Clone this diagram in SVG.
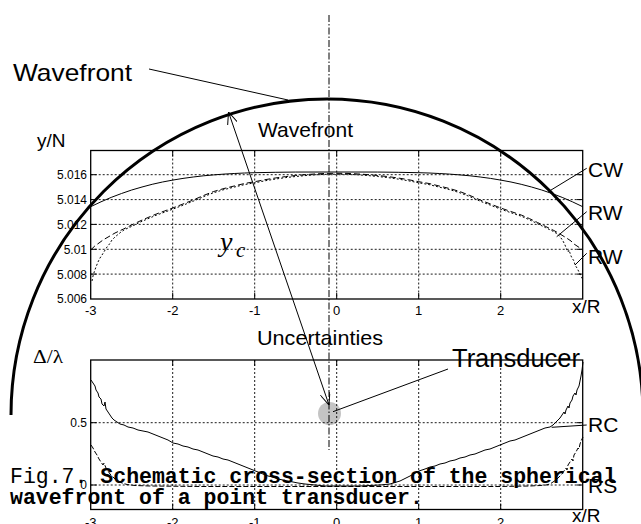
<svg xmlns="http://www.w3.org/2000/svg" width="641" height="524" viewBox="0 0 641 524">
<defs>
<style>
.frame{fill:none;stroke:#000;stroke-width:1.3}
.grid{fill:none;stroke:#000;stroke-width:0.9;stroke-dasharray:2 2}
.tick{fill:none;stroke:#000;stroke-width:1}
.curve{fill:none;stroke:#000;stroke-width:1;stroke-linejoin:round}
.lead{fill:none;stroke:#000;stroke-width:1}
.tl{font-family:"Liberation Sans",Arial,sans-serif;font-size:12px;fill:#000}
.tx{font-family:"Liberation Sans",Arial,sans-serif;font-size:13px;fill:#000;text-anchor:middle}
.lab{font-family:"Liberation Sans",Arial,sans-serif;fill:#000}
.cap{font-family:"Liberation Mono","Courier New",monospace;font-size:21.5px;fill:#000}
</style>
<marker id="v" viewBox="0 0 12 10" refX="12" refY="5" markerWidth="12" markerHeight="10" markerUnits="userSpaceOnUse" orient="auto-start-reverse">
<path d="M0,0 L12,5 L0,10" fill="none" stroke="#000" stroke-width="1"/>
</marker>
</defs>
<rect width="641" height="524" fill="#fff"/>

<g id="transducer">
<circle cx="329.5" cy="413.5" r="11.5" fill="#c4c4c4"/>
</g>

<g id="plot-wavefront">
<g class="grid">
<path d="M172.7,150.5V299M254.7,150.5V299M336.7,150.5V299M418.7,150.5V299M500.7,150.5V299"/>
<path d="M90.7,174.7H582.7M90.7,199.6H582.7M90.7,224.4H582.7M90.7,249.3H582.7M90.7,274.1H582.7"/>
</g>
<g class="tick">
<path d="M172.7,299v-6M254.7,299v-6M336.7,299v-6M418.7,299v-6M500.7,299v-6M172.7,150.5v6M254.7,150.5v6M336.7,150.5v6M418.7,150.5v6M500.7,150.5v6"/>
<path d="M90.7,174.7h6M90.7,199.6h6M90.7,224.4h6M90.7,249.3h6M90.7,274.1h6M582.7,174.7h-6M582.7,199.6h-6M582.7,224.4h-6M582.7,249.3h-6M582.7,274.1h-6"/>
</g>
<rect class="frame" x="90.7" y="150.5" width="492" height="148.5"/>
<polyline class="curve" points="90.7,206.7 101,201.8 111.2,197.4 121.5,193.5 131.7,190 142,187 152.2,184.3 162.5,182 172.7,180.1 183,178.4 193.2,177 203.5,175.8 213.7,174.9 224,174.1 234.2,173.5 244.5,173 254.7,172.7 275.2,172.3 295.7,172.05 336.7,172 377.7,172.05 398.2,172.3 418.7,172.7 429,173 439.2,173.5 449.5,174.1 459.7,174.9 470,175.8 480.2,177 490.5,178.4 500.7,180.1 511,182 521.2,184.3 531.5,187 541.7,190 552,193.5 562.2,197.4 572.4,201.8 582.7,206.7"/>
<polyline class="curve" stroke-dasharray="6 3" points="90.7,250 94.8,246 99,243 103,240 109,236.5 115,233 123.5,229 131.7,225 140,221 148,217.5 156.3,214 164.5,211 172.7,208 183,204 193.2,200 203.5,195.5 213.7,191.5 224,188.5 234.2,186 244.5,183.5 254.7,181.7 265,179.7 275.2,178 285.5,176.6 295.7,175.5 306,174.6 316.2,173.9 326.5,173.4 336.7,173.3 347,173.4 357.2,173.9 367.5,174.6 377.7,175.5 388,176.6 398.2,178 408.5,179.7 418.7,181.7 429,183.5 439.2,186 449.5,188.5 459.7,191.5 470,195.5 480.2,200 490.5,204 500.7,208 510.9,211.5 521.2,215 529.3,218.5 537.5,222.5 545.7,226.5 553.9,230.5 560,234 566.5,238 571,241 574,244 577,246 580,248 582.7,250"/>
<polyline class="curve" stroke-dasharray="2 2" points="92,281 93,276 94.5,271 96,267 98,262 100,258 102,255 104.5,251 107,247 109.5,244 112,240 115,237 118,234.5 121,232 124,230 128,228 132,226.3 140,222.2 148,218.7 156.3,215.2 164.5,212.2 172.7,209.2 183,205.2 193.2,201.2 203.5,196.7 213.7,192.7 224,189.6 234.2,187.1 244.5,184.6 254.7,182.8 265,180.8 275.2,179.1 285.5,177.6 295.7,176.5 306,175.5 316.2,174.8 326.5,174.3 336.7,174.2 347,174.3 357.2,174.8 367.5,175.5 377.7,176.5 388,177.6 398.2,179.1 408.5,180.8 418.7,182.8 429,184.6 439.2,187.1 449.5,189.6 459.7,192.7 470,196.7 480.2,201.2 490.5,205.2 500.7,209.2 510.9,212.7 521.2,216.2 529.3,219.7 537.5,223.7 545.7,227.7 553.9,231.7 558,234.5 561,238 563,241 565,245 566.5,249 568,252 569,250 571,256 572,258 574,261 575,265 577,268 578,270 579.5,273 581,276 582.5,279"/>
<g class="tl" text-anchor="end">
<text x="87" y="179">5.016</text>
<text x="87" y="204">5.014</text>
<text x="87" y="229">5.012</text>
<text x="87" y="253.5">5.01</text>
<text x="87" y="278.5">5.008</text>
<text x="87" y="303">5.006</text>
</g>
<g class="tx">
<text x="90.7" y="315">-3</text>
<text x="172.7" y="315">-2</text>
<text x="254.7" y="315">-1</text>
<text x="336.7" y="315">0</text>
<text x="418.7" y="315">1</text>
<text x="500.7" y="315">2</text>
</g>
<text class="lab" x="572" y="313" font-size="19">x/R</text>
<text class="lab" x="37" y="147" font-size="19">y/N</text>
<text class="lab" x="258" y="137" font-size="21" textLength="95" lengthAdjust="spacingAndGlyphs">Wavefront</text>
</g>

<g id="plot-uncertainties">
<g class="grid">
<path d="M172.7,360V509.5M254.7,360V509.5M336.7,360V509.5M418.7,360V509.5M500.7,360V509.5"/>
<path d="M90.7,422.7H582.7M90.7,485H582.7"/>
</g>
<g class="tick">
<path d="M172.7,509.5v-6M254.7,509.5v-6M336.7,509.5v-6M418.7,509.5v-6M500.7,509.5v-6M172.7,360v6M254.7,360v6M336.7,360v6M418.7,360v6M500.7,360v6"/>
<path d="M90.7,422.7h6M90.7,485h6M582.7,422.7h-6M582.7,485h-6"/>
</g>
<rect class="frame" x="90.7" y="360" width="492" height="149.5"/>
<polyline class="curve" points="91,380 93,383 95,386 96,390 98,393 99,397 101,399 102,404 104,406 105,402 106,409 108,412 110,415 112,418 114,420 117,422 120,424 124,425 128,427 133,428 138,430 143,431 148,432 153,434 158,436 163,438 168,440 173,443 178,444 183,446 188,447 193,449 198,450 203,452 208,454 213,456 218,457 223,459 228,460 233,462 238,464 243,466 248,468 253,470 258,472 263,474 268,476 273,477 278,479 283,480 288,481 293,482 298,483 305,484 315,485 325,486 337,486 350,486 360,486 370,485.5 380,485 390,484 400,481 410,476 419,471 425,469 430,467 435,466 440,464 445,463 450,461 455,460 460,458 465,457 470,455 475,454 480,452 485,450 490,449 495,447 500,445 505,443 510,441 515,440 520,438 525,436 530,434 535,432 540,430 545,428 550,427 553,425 556,422 558,420 560,418 562,415 564,412 565,414 566,410 568,406 569,408 570,403 572,400 573,396 575,393 576,395 577,390 579,386 580,381 581,376 582,370 583,362"/>
<polyline class="curve" stroke-dasharray="5 2" points="91,445 93,448 95,452 97,455 99,459 101,462 103,465 104,463 106,468 108,471 110,474 112,476 115,479 118,481 122,483 127,484.5 135,485.5 150,486 200,486.5 300,486.5 400,486.5 500,486.5 530,486 540,485.5 546,485 550,484 553,482 556,480 559,477 562,474 564,471 566,468 567,470 568,465 570,462 572,459 573,461 574,455 576,452 578,448 579,449 580,444 581,441 583,437"/>
<g class="tl" text-anchor="end">
<text x="87" y="427">0.5</text>
<text x="87" y="489">0</text>
</g>
<g class="tx">
<text x="90.7" y="527">-3</text>
<text x="172.7" y="527">-2</text>
<text x="254.7" y="527">-1</text>
<text x="336.7" y="527">0</text>
<text x="418.7" y="527">1</text>
<text x="500.7" y="527">2</text>
</g>
<text class="lab" x="572" y="522" font-size="19">x/R</text>
<text x="33" y="363" font-family="'Liberation Serif','Times New Roman',serif" font-size="19" textLength="30" lengthAdjust="spacingAndGlyphs">Δ/λ</text>
<text class="lab" x="257" y="345" font-size="21" textLength="126" lengthAdjust="spacingAndGlyphs">Uncertainties</text>
</g>

<g id="wavefront-arc">
<path d="M11,415 A316,316 0 0 1 643,415" fill="none" stroke="#000" stroke-width="3"/>
</g>

<g id="axis-line">
<path d="M329,15V450" fill="none" stroke="#000" stroke-width="1" stroke-dasharray="7 2 1.5 2"/>
</g>

<g id="connectors">
<path class="lead" d="M149,69L288,100"/>
<path class="lead" d="M228.5,112L329,405" marker-start="url(#v)" marker-end="url(#v)"/>
<path class="lead" d="M448,369L333,411.7"/>
<path class="lead" d="M586.7,168.3L548.3,191.7"/>
<path class="lead" d="M586.7,211.7L556.7,236.7"/>
<path class="lead" d="M586.7,253.3L575,265"/>
<path class="lead" d="M586.7,425L551.7,427.3"/>
</g>

<g id="label-wavefront"><text class="lab" x="13" y="81" font-size="24" textLength="119" lengthAdjust="spacingAndGlyphs">Wavefront</text></g>
<g id="label-yc"><text x="220" y="250.6" font-family="'Liberation Serif','Times New Roman',serif" font-style="italic" font-size="28">y</text><text x="236" y="256.5" font-family="'Liberation Serif','Times New Roman',serif" font-style="italic" font-size="21">c</text></g>
<g id="label-transducer"><text class="lab" x="452" y="367" font-size="26" textLength="128" lengthAdjust="spacingAndGlyphs">Transducer</text></g>
<g id="label-cw"><text class="lab" x="588" y="177" font-size="21">CW</text></g>
<g id="label-rw1"><text class="lab" x="588" y="220" font-size="21">RW</text></g>
<g id="label-rw2"><text class="lab" x="588" y="263.5" font-size="21">RW</text></g>
<g id="label-rc"><text class="lab" x="588" y="432" font-size="21">RC</text></g>
<g id="label-rs"><text class="lab" x="588" y="493" font-size="21">RS</text></g>

<g id="caption">
<text class="cap" x="10" y="483.3" xml:space="preserve">Fig.7. <tspan font-weight="bold">Schematic cross-section of the spherical</tspan></text>
<text class="cap" x="10" y="503.5" font-weight="bold">wavefront of a point transducer.</text>
</g>
</svg>
